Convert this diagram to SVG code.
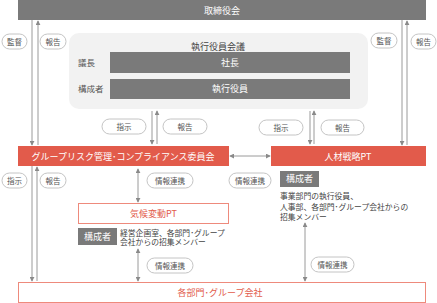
<svg xmlns="http://www.w3.org/2000/svg" width="437" height="303" viewBox="0 0 437 303">
<defs>
<style>
text{font-family:"Noto Sans CJK JP","Noto Sans",sans-serif;}
.dark{fill:#7a7a7a;}
.red{fill:#e25b4b;}
.w{fill:#ffffff;font-size:9px;text-anchor:middle;}
.pill{fill:#ffffff;stroke:#b5b5b5;stroke-width:0.8;}
.pt{fill:#555555;font-size:7.5px;text-anchor:middle;}
.lbl{fill:#555555;font-size:8.5px;}
.body{fill:#444444;font-size:7.8px;}
.ln{stroke:#9a9a9a;stroke-width:1;fill:none;}
.outl{fill:#ffffff;stroke:#ee8a7c;stroke-width:1;}
.rt{fill:#e25b4b;font-size:9px;text-anchor:middle;}
</style>
<marker id="ah" viewBox="0 0 6 6" refX="5" refY="3" markerWidth="5" markerHeight="5" orient="auto-start-reverse" markerUnits="userSpaceOnUse">
<path d="M0,0 L6,3 L0,6 Z" fill="#8a8a8a"/>
</marker>
</defs>

<g id="connectors">
<line class="ln" x1="32" y1="20" x2="32" y2="145" marker-end="url(#ah)"/>
<line class="ln" x1="38" y1="145" x2="38" y2="21" marker-end="url(#ah)"/>
<line class="ln" x1="402" y1="20" x2="402" y2="145" marker-end="url(#ah)"/>
<line class="ln" x1="407" y1="145" x2="407" y2="21" marker-end="url(#ah)"/>
<line class="ln" x1="152" y1="111" x2="152" y2="144" marker-end="url(#ah)"/>
<line class="ln" x1="157" y1="144" x2="157" y2="111" marker-end="url(#ah)"/>
<line class="ln" x1="310" y1="111" x2="310" y2="144" marker-end="url(#ah)"/>
<line class="ln" x1="314" y1="144" x2="314" y2="111" marker-end="url(#ah)"/>
<line class="ln" x1="230" y1="156" x2="270" y2="156" marker-start="url(#ah)" marker-end="url(#ah)"/>
<line class="ln" x1="32" y1="166" x2="32" y2="281" marker-end="url(#ah)"/>
<line class="ln" x1="37" y1="281" x2="37" y2="167" marker-end="url(#ah)"/>
<line class="ln" x1="138" y1="169" x2="138" y2="202" marker-start="url(#ah)" marker-end="url(#ah)"/>
<line class="ln" x1="138" y1="249" x2="138" y2="281" marker-start="url(#ah)" marker-end="url(#ah)"/>
<line class="ln" x1="305" y1="223" x2="305" y2="281" marker-start="url(#ah)" marker-end="url(#ah)"/>
</g>

<g id="board">
<rect class="dark" x="18" y="0" width="408" height="20"/>
<text class="w" x="222" y="13.5">取締役会</text>
</g>

<g id="exec-meeting">
<rect x="69" y="33" width="299" height="76" rx="10" fill="#f2f2f2"/>
<text x="218" y="50" fill="#444" font-size="9" text-anchor="middle">執行役員会議</text>
<text class="lbl" x="78" y="65.5">議長</text>
<rect class="dark" x="110" y="52" width="240" height="21"/>
<text class="w" x="230" y="65.5">社長</text>
<text class="lbl" x="78" y="92">構成者</text>
<rect class="dark" x="110" y="79" width="240" height="20"/>
<text class="w" x="230" y="92">執行役員</text>
</g>

<g id="labels">
<rect class="pill" x="2" y="34" width="25" height="15" rx="7.5"/><text class="pt" x="14.5" y="44.5">監督</text>
<rect class="pill" x="40" y="34" width="26" height="15" rx="7.5"/><text class="pt" x="53" y="44.5">報告</text>
<rect class="pill" x="371" y="33" width="26" height="15" rx="7.5"/><text class="pt" x="384" y="43.5">監督</text>
<rect class="pill" x="411" y="34" width="25" height="15" rx="7.5"/><text class="pt" x="423.5" y="44.5">報告</text>
<rect class="pill" x="102" y="119" width="44" height="15" rx="7.5"/><text class="pt" x="124" y="129.5">指示</text>
<rect class="pill" x="163" y="119" width="44" height="15" rx="7.5"/><text class="pt" x="185" y="129.5">報告</text>
<rect class="pill" x="259" y="120" width="44" height="15" rx="7.5"/><text class="pt" x="281" y="130.5">指示</text>
<rect class="pill" x="321" y="120" width="43" height="15" rx="7.5"/><text class="pt" x="342.5" y="130.5">報告</text>
<rect class="pill" x="2" y="173" width="25" height="15" rx="7.5"/><text class="pt" x="14.5" y="183.5">指示</text>
<rect class="pill" x="40" y="173" width="26" height="15" rx="7.5"/><text class="pt" x="53" y="183.5">報告</text>
<rect class="pill" x="147" y="173" width="46" height="15" rx="7.5"/><text class="pt" x="170" y="183.5">情報連携</text>
<rect class="pill" x="229" y="173" width="42" height="15" rx="7.5"/><text class="pt" x="250" y="183.5">情報連携</text>
<rect class="pill" x="147" y="258" width="46" height="15" rx="7.5"/><text class="pt" x="170" y="268.5">情報連携</text>
<rect class="pill" x="311" y="257" width="43" height="15" rx="7.5"/><text class="pt" x="332.5" y="267.5">情報連携</text>
</g>

<g id="grc">
<rect class="red" x="18" y="146" width="211" height="20"/>
<text class="w" x="123" y="159.5">グループリスク管理･コンプライアンス委員会</text>
</g>

<g id="hr-pt">
<rect class="red" x="271" y="146" width="155" height="20"/>
<text class="w" x="348" y="159.5">人材戦略PT</text>
<rect class="dark" x="280" y="171" width="39" height="16"/>
<text class="w" x="299.5" y="182" font-size="8.5">構成者</text>
<text class="body" x="280" y="199">事業部門の執行役員、</text>
<text class="body" x="280" y="209.5">人事部、各部門･グループ会社からの</text>
<text class="body" x="280" y="220">招集メンバー</text>
</g>

<g id="climate-pt">
<rect class="outl" x="78.5" y="203.5" width="150" height="20"/>
<text class="rt" x="153.5" y="217">気候変動PT</text>
<rect class="dark" x="78" y="228" width="39" height="17"/>
<text class="w" x="97.5" y="239.5" font-size="8.5">構成者</text>
<text class="body" x="120" y="235.5">経営企画室、各部門･グループ</text>
<text class="body" x="120" y="245">会社からの招集メンバー</text>
</g>

<g id="divisions">
<rect class="outl" x="18.5" y="282.5" width="407" height="20"/>
<text class="rt" x="220" y="296">各部門･グループ会社</text>
</g>
</svg>
